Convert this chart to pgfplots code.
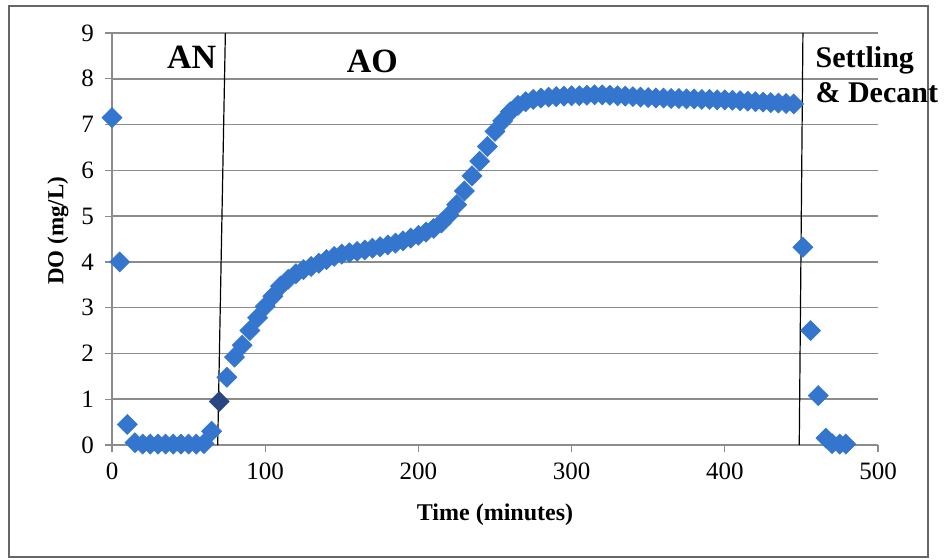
\documentclass[border=0pt]{standalone}
\usepackage{fontspec}
\setmainfont{Liberation Serif}
\usepackage{pgfplots}
\pgfplotsset{compat=1.18}
\definecolor{doblue}{RGB}{52,118,206}
\definecolor{dodark}{RGB}{40,70,130}
\definecolor{gridgray}{RGB}{140,140,140}

\begin{document}
\begin{tikzpicture}
% page and outer frame (1px = 0.5pt)
\path (0,0) rectangle (473pt,279.5pt);
\draw[gray!80!black, line width=0.6pt] (4.5pt,1pt) rectangle (464pt,276.5pt);
\begin{axis}[
    at={(56pt,57pt)}, anchor=south west,
    scale only axis, width=383pt, height=206pt,
    xmin=0, xmax=500, ymin=0, ymax=9,
    xtick={0,100,...,500}, ytick={0,1,...,9},
    axis x line*=bottom, axis y line*=left,
    axis line style={gridgray, line width=0.75pt},
    tick align=outside, major tick length=3.5pt,
    tick style={gridgray, line width=0.6pt},
    ymajorgrids, grid style={gridgray, line width=0.75pt},
    /pgf/number format/assume math mode=true,
    ticklabel style={font=\fontsize{12.5}{14}\selectfont},
    yticklabel style={xshift=-2pt},
    xticklabel style={yshift=-2pt},
    xlabel={\textbf{Time (minutes)}},
    xlabel style={font=\fontsize{12}{14}\selectfont, at={(axis description cs:0.5,-0.17)}, anchor=center},
    clip=false,
]
\addplot[only marks, mark=square*, mark size=3.5pt,
    mark options={rotate=45, fill=doblue, draw=doblue}] coordinates {
(0,7.15) (5,4.0) (10,0.45) (15,0.05) (20,0.02) (25,0.02) (30,0.02) (35,0.02)
(40,0.02) (45,0.02) (50,0.02) (55,0.02) (60,0.03) (65,0.3)
(75,1.48) (80,1.92) (85,2.18) (90,2.5) (95,2.78) (100,3.03) (105,3.25)
(110,3.47) (115,3.62) (120,3.74) (125,3.83) (130,3.9) (135,3.97) (140,4.05)
(145,4.12) (150,4.17) (155,4.2) (160,4.23) (165,4.26) (170,4.3) (175,4.33)
(180,4.37) (185,4.41) (190,4.46) (195,4.52) (200,4.58) (205,4.65) (210,4.73)
(215,4.85) (220,5.02) (225,5.25) (230,5.55) (235,5.88) (240,6.2) (245,6.52)
(250,6.85) (255,7.08) (260,7.28) (265,7.42) (270,7.5) (275,7.55) (280,7.58)
(285,7.6) (290,7.61) (295,7.62) (300,7.63) (305,7.63) (310,7.64) (315,7.65)
(320,7.65) (325,7.64) (330,7.63) (335,7.62) (340,7.61) (345,7.6) (350,7.59)
(355,7.58) (360,7.58) (365,7.57) (370,7.57) (375,7.56) (380,7.56) (385,7.55)
(390,7.55) (395,7.54) (400,7.54) (405,7.53) (410,7.52) (415,7.51) (420,7.5)
(425,7.49) (430,7.48) (435,7.47) (440,7.46) (445,7.45)
(451,4.32) (456,2.5) (461,1.08) (466,0.15) (470,0.03) (475,0.02) (479,0.02)
};
\addplot[only marks, mark=square*, mark size=3.5pt,
    mark options={rotate=45, fill=dodark, draw=dodark}] coordinates {(70,0.95)};
% phase boundaries
\draw[black, line width=0.6pt] (axis cs:69,0) -- (axis cs:74,9);
\draw[black, line width=0.6pt] (axis cs:448.6,0) -- (axis cs:451,9);
% y label
\node[rotate=90, font=\fontsize{11.5}{14}\selectfont\bfseries]
    at (axis description cs:-0.0705,0.52) {DO (mg/L)};
% phase labels
\node[font=\fontsize{17}{19}\selectfont\bfseries] at (axis cs:52,8.48) {AN};
\node[font=\fontsize{17}{19}\selectfont\bfseries] at (axis cs:170,8.37) {AO};
\node[font=\fontsize{15}{17.5}\selectfont\bfseries, anchor=north west, align=left, inner sep=0pt]
    at (axis cs:459,8.7) {Settling\\\& Decant};
\end{axis}
\end{tikzpicture}
\end{document}
